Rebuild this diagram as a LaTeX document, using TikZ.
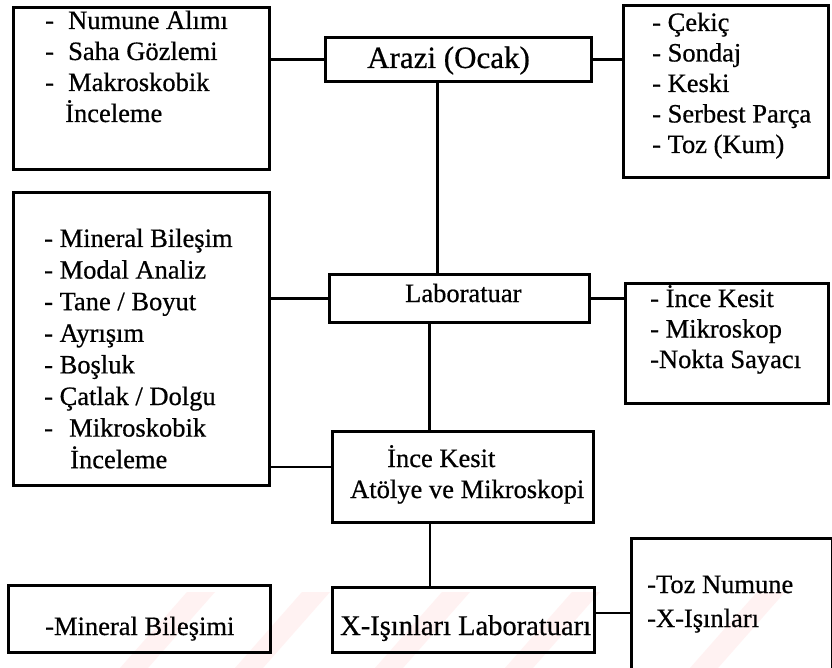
\documentclass[tikz,border=0pt]{standalone}
\usepackage{fontspec}
\setmainfont{Liberation Serif}[FakeBold=0.6]
\usepackage{tikz}
\usetikzlibrary{calc, positioning}

\tikzset{
  kutu/.style={draw, line width=2.9pt, anchor=north west, inner sep=0pt},
  yazi/.style={anchor=base west, inner sep=0pt, font=\fontsize{26.5}{31}\selectfont},
  bag/.style={line width=2.4pt},
  incebag/.style={line width=1.3pt},
}

\begin{document}
\begin{tikzpicture}[x=1pt, y=-1pt]

    % =================================================================
    % 1. SAYFA SINIRI VE SOLUK FİLİGRAN ŞERİTLERİ
    % =================================================================
    \clip (0,0) rectangle (832,668);
    \fill[white] (0,0) rectangle (832,668);
    \foreach \sx in {120,235,375,505,690}
        \fill[red!5] (\sx,668) -- (\sx+28,668) -- (\sx+95,592) -- (\sx+67,592) -- cycle;

    % =================================================================
    % 2. KUTULAR (ÇERÇEVELER)
    % =================================================================
    \node[kutu, minimum width=256pt, minimum height=162pt] (alim)    at (12,6)    {};
    \node[kutu, minimum width=266pt, minimum height=44pt]  (arazi)   at (324,36)  {};
    \node[kutu, minimum width=205pt, minimum height=172pt] (alet)    at (622,4)   {};
    \node[kutu, minimum width=256pt, minimum height=293pt] (analiz)  at (12,191)  {};
    \node[kutu, minimum width=260pt, minimum height=48pt]  (lab)     at (328,273) {};
    \node[kutu, minimum width=203pt, minimum height=120pt] (kesit)   at (624,282) {};
    \node[kutu, minimum width=261pt, minimum height=91pt]  (atolye)  at (331,430) {};
    \node[kutu, minimum width=262pt, minimum height=67pt]  (mineral) at (7,584)   {};
    \node[kutu, minimum width=262pt, minimum height=65pt]  (xray)    at (331,586) {};
    \node[kutu, minimum width=201pt, minimum height=143pt] (toz)     at (630,537) {};

    % =================================================================
    % 3. BAĞLANTI ÇİZGİLERİ
    % =================================================================
    \draw[bag] (arazi.west) -- (arazi.west -| alim.east);
    \draw[bag] (arazi.east) -- (arazi.east -| alet.west);
    \draw[bag] ([xshift=-21pt]arazi.south) -- ([xshift=-21pt]arazi.south |- lab.north);
    \draw[bag] (lab.west) -- (lab.west -| analiz.east);
    \draw[bag] (lab.east) -- (lab.east -| kesit.west);
    \draw[bag] ([xshift=-30pt]lab.south) -- ([xshift=-30pt]lab.south |- atolye.north);
    \draw[incebag] ([yshift=10pt]atolye.west) -- ([yshift=10pt]atolye.west -| analiz.east);
    \draw[bag] ([xshift=-33pt]atolye.south) -- ([xshift=-33pt]atolye.south |- xray.north);
    \draw[incebag] ([yshift=7pt]xray.east) -- ([yshift=7pt]xray.east -| toz.west);

    % =================================================================
    % 4. KUTU YAZILARI
    % =================================================================
    % Arazi çalışmaları
    \foreach \satir [count=\i] in {{\makebox[23pt][l]{-}Numune Alımı},
        {\makebox[23pt][l]{-}Saha Gözlemi}, {\makebox[23pt][l]{-}Makroskobik},
        {\hspace*{20pt}İnceleme}}
        \node[yazi] (alim-\i) at (45,{29+31*(\i-1)}) {\satir};

    \foreach \satir [count=\i] in {- Çekiç, - Sondaj, - Keski, - Serbest Parça, - Toz (Kum)}
        \node[yazi] (alet-\i) at (652,{31+30.5*(\i-1)}) {\satir};

    % Laboratuar çalışmaları
    \foreach \satir [count=\i] in {- Mineral Bileşim, - Modal Analiz, - Tane / Boyut,
        - Ayrışım, - Boşluk, - Çatlak / Dolgu,
        {\makebox[25pt][l]{-}Mikroskobik}, {\hspace*{26pt}İnceleme}}
        \node[yazi] (analiz-\i) at (44,{247+31.6*(\i-1)}) {\satir};

    \foreach \satir [count=\i] in {- İnce Kesit, - Mikroskop, -Nokta Sayacı}
        \node[yazi] (kesit-\i) at (650,{307+30.5*(\i-1)}) {\satir};

    \foreach \satir [count=\i] in {-Toz Numune, -X-Işınları}
        \node[yazi] (toz-\i) at (647,{593+34*(\i-1)}) {\satir};

    % Orta sütun başlıkları
    \node[yazi, font=\fontsize{31}{36}\selectfont] (arazi-y) at (367,68) {Arazi (Ocak)};
    \node[yazi] (lab-y)     at (405,302) {Laboratuar};
    \node[yazi] (atolye-1)  at (387,467) {İnce Kesit};
    \node[yazi] (atolye-2)  at (350,498) {Atölye ve Mikroskopi};
    \node[yazi, font=\fontsize{28.5}{34}\selectfont] (xray-y) at (340,635) {X-Işınları Laboratuarı};
    \node[yazi] (mineral-y) at (45,635)  {-Mineral Bileşimi};

\end{tikzpicture}
\end{document}
